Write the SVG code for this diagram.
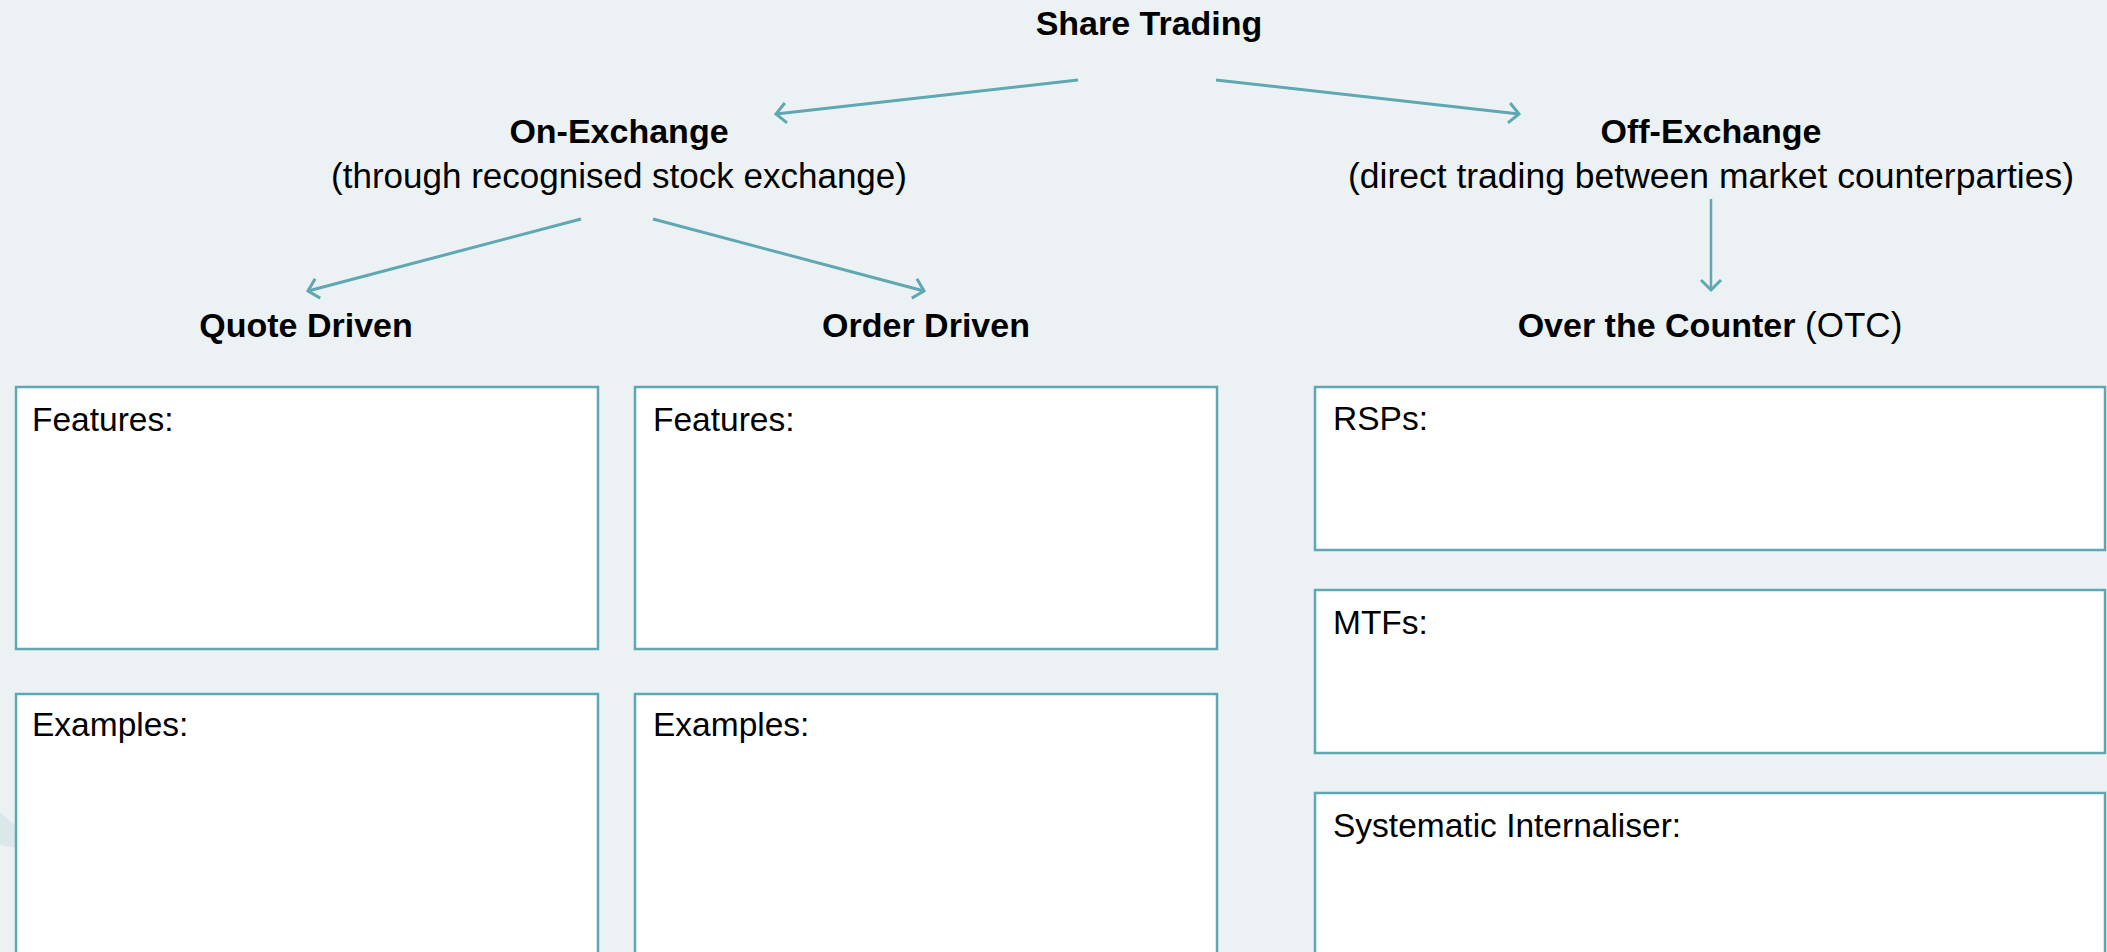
<svg xmlns="http://www.w3.org/2000/svg" width="2107" height="952" viewBox="0 0 2107 952">
<style>
.bg{fill:#ecf2f4}
.box{fill:#ffffff;stroke:#5ea7b3;stroke-width:2.5}
.conn{stroke:#5ea7b3;stroke-width:3;fill:none}
.thin{stroke-width:2.5}
.t{font-family:"Liberation Sans",Arial,sans-serif;fill:#000}
.b{font-weight:bold;font-size:34px}
.r{font-size:35px}
.lbl{font-size:33.5px}
.mid{text-anchor:middle}
</style>
<defs>
<marker id="chev" markerUnits="userSpaceOnUse" markerWidth="30" markerHeight="30" viewBox="-15 -15 30 30" refX="0" refY="0" orient="auto">
<path d="M-10,-10 L0,0 L-10,10" fill="none" stroke="#5ea7b3" stroke-width="3"/>
</marker>
</defs>
<rect class="bg" x="0" y="0" width="2107" height="952"/>
<polygon points="0,812 16,826 16,848 0,845" fill="#dce7ea"/>

<g id="share-trading"><text class="t b mid" x="1149" y="35">Share Trading</text></g>
<g id="on-exchange">
<text class="t b mid" x="619" y="143">On-Exchange</text>
<text class="t r mid" x="619" y="188">(through recognised stock exchange)</text>
</g>
<g id="off-exchange">
<text class="t b mid" x="1711" y="143">Off-Exchange</text>
<text class="t r mid" x="1711" y="188" style="font-size:35.5px">(direct trading between market counterparties)</text>
</g>
<g id="quote-driven"><text class="t b mid" x="306" y="337">Quote Driven</text></g>
<g id="order-driven"><text class="t b mid" x="926" y="337">Order Driven</text></g>
<g id="otc"><text class="t mid" x="1710" y="337"><tspan class="b">Over the Counter</tspan><tspan class="r"> (OTC)</tspan></text></g>

<g id="quote-features"><rect class="box" x="16" y="387" width="582" height="262"/><text class="t lbl" x="32" y="431">Features:</text></g>
<g id="order-features"><rect class="box" x="635" y="387" width="582" height="262"/><text class="t lbl" x="653" y="431">Features:</text></g>
<g id="quote-examples"><rect class="box" x="16" y="694" width="582" height="280"/><text class="t lbl" x="32" y="736">Examples:</text></g>
<g id="order-examples"><rect class="box" x="635" y="694" width="582" height="280"/><text class="t lbl" x="653" y="736">Examples:</text></g>
<g id="rsps"><rect class="box" x="1315" y="387" width="790" height="163"/><text class="t lbl" x="1333" y="430">RSPs:</text></g>
<g id="mtfs"><rect class="box" x="1315" y="590" width="790" height="163"/><text class="t lbl" x="1333" y="634">MTFs:</text></g>
<g id="si"><rect class="box" x="1315" y="793" width="790" height="180"/><text class="t lbl" x="1333" y="837">Systematic Internaliser:</text></g>

<g id="connectors">
<line class="conn" x1="1078" y1="80" x2="776" y2="114" marker-end="url(#chev)"/>
<line class="conn" x1="1216" y1="80" x2="1519" y2="114" marker-end="url(#chev)"/>
<line class="conn" x1="581" y1="219" x2="308" y2="291" marker-end="url(#chev)"/>
<line class="conn" x1="653" y1="219" x2="924" y2="291" marker-end="url(#chev)"/>
<line class="conn thin" x1="1711" y1="199" x2="1711" y2="290" marker-end="url(#chev)"/>
</g>
</svg>
